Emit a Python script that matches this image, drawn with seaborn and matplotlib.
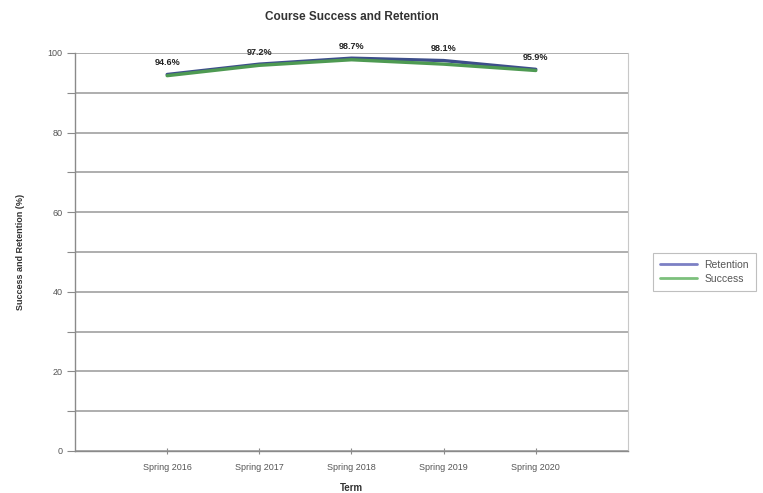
import matplotlib
matplotlib.use("Agg")
import matplotlib.pyplot as plt
from matplotlib.ticker import MultipleLocator
import seaborn as sns
import pandas as pd

terms = ["Spring 2016", "Spring 2017", "Spring 2018", "Spring 2019", "Spring 2020"]
retention = [94.6, 97.2, 98.7, 98.1, 95.9]
success = [94.3, 96.9, 98.3, 97.2, 95.6]

sns.set_theme(style="white")
plt.rcParams["font.family"] = ["Liberation Sans", "DejaVu Sans"]

df = pd.DataFrame({
    "Term": terms * 2,
    "pos": list(range(1, len(terms) + 1)) * 2,
    "value": retention + success,
    "series": ["Retention"] * len(terms) + ["Success"] * len(terms),
})

fig = plt.figure(figsize=(7.63, 4.93), dpi=100)
ax = fig.add_axes([0.0983, 0.0852, 0.7247, 0.8073])

palette = {"Retention": "#3d4e8a", "Success": "#4e9a52"}
sns.lineplot(data=df, x="pos", y="value", hue="series", palette=palette,
             linewidth=2.4, ax=ax, legend=True)

# value labels above the retention line
for i, v in enumerate(retention):
    ax.text(i + 1, v + 1.8, f"{v:.1f}%", ha="center", va="bottom",
            fontsize=6.5, fontweight="bold", color="#222222")

ax.set_xlim(0, 6)
ax.set_ylim(0, 100)
ax.set_xticks(range(1, len(terms) + 1))
ax.set_xticklabels(terms)
ax.yaxis.set_major_locator(MultipleLocator(20))
ax.yaxis.set_minor_locator(MultipleLocator(10))
ax.grid(axis="y", which="both", color="#999999", linewidth=1.1)
ax.set_axisbelow(True)

for side in ["left", "bottom"]:
    ax.spines[side].set_color("#8a8a8a")
    ax.spines[side].set_linewidth(1.0)
ax.spines["top"].set_visible(False)
ax.spines["right"].set_color("#c8c8c8")
ax.spines["right"].set_linewidth(0.8)

ax.tick_params(axis="both", which="both", colors="#8a8a8a", labelcolor="#555555",
               labelsize=6.5, width=0.8)
ax.tick_params(axis="y", which="both", direction="out", left=True, length=6, pad=3)
ax.tick_params(axis="x", direction="inout", bottom=True, length=5, pad=6)

ax.set_xlabel("Term", fontsize=7, fontweight="bold", color="#333333", labelpad=8)
ax.set_ylabel("Success and Retention (%)", fontsize=6.5, fontweight="bold",
              color="#333333", labelpad=16)
ax.set_title("Course Success and Retention", fontsize=8.5, fontweight="bold",
             color="#333333", pad=24)

leg = ax.legend(loc="center left", bbox_to_anchor=(1.035, 0.45), fontsize=7.5,
                frameon=True, fancybox=False, handlelength=3.6,
                borderpad=0.7, labelspacing=0.35, handletextpad=0.7)
leg.get_frame().set_edgecolor("#b0b0b0")
leg.get_frame().set_linewidth(0.8)
for t in leg.get_texts():
    t.set_color("#555555")
for h, c in zip(leg.get_lines(), ["#7c80c4", "#7cc07c"]):
    h.set_color(c)
    h.set_linewidth(2.0)

fig.savefig("out.png", dpi=100, facecolor="white")
